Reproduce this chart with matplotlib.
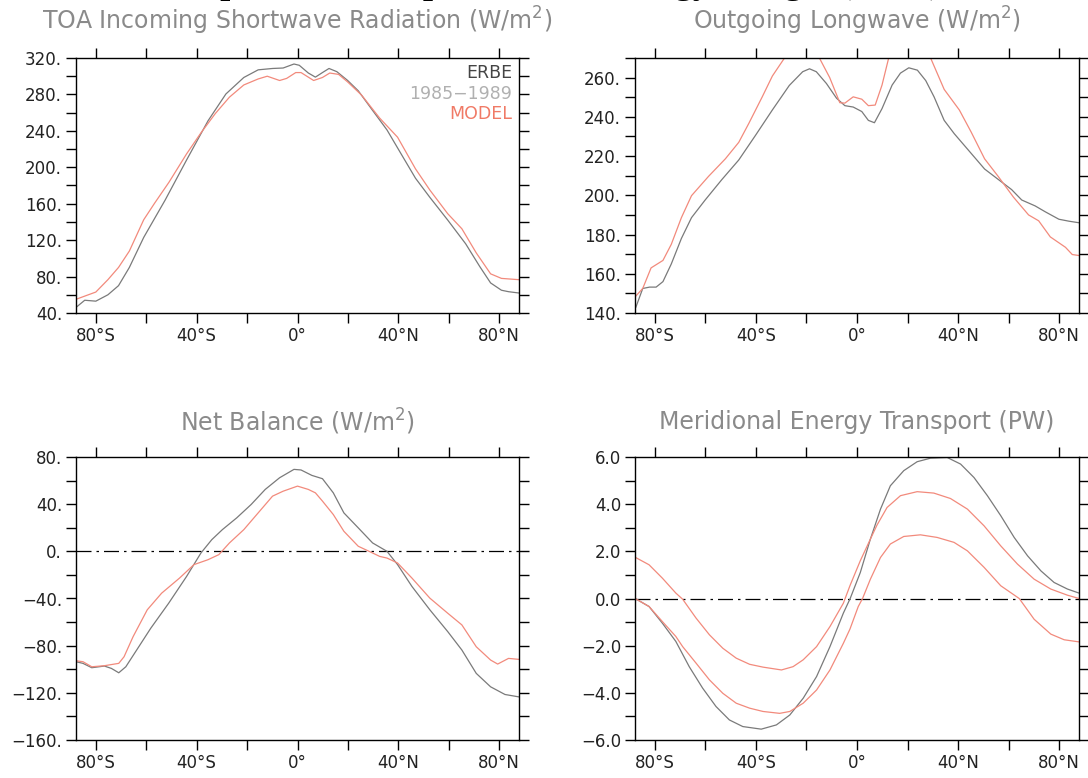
import numpy as np
import matplotlib.pyplot as plt

# ---- latitudes and zonal means, TOA absorbed shortwave (W/m2)
lat_sw_erbe = [-87.9, -84.4, -80.0, -75.2, -71.0, -66.7, -61.0, -52.5, -44.0, -35.5,
               -28.4, -21.3, -15.6, -9.9, -5.7, -1.4, 0.7, 4.3, 7.1, 9.9, 12.5, 15.6,
               19.9, 24.1, 29.8, 35.5, 41.1, 46.8, 52.5, 59.6, 66.7, 72.3, 76.6, 80.9,
               83.7, 87.7]
sw_erbe = [46, 54, 53, 60, 70, 90, 123, 164, 208, 251,
           280.5, 298.6, 307, 308.5, 309, 313.4, 312, 303.5, 299, 304, 308.5, 305,
           295.3, 284, 262.4, 241, 214.7, 188, 167, 142, 116, 91, 73, 65,
           63.4, 62]
lat_sw_model = [-87.9, -80.0, -75.2, -71.0, -66.7, -61.0, -56.7, -51.0, -44.0, -38.3,
                -32.6, -27.0, -21.3, -15.6, -12.0, -7.1, -4.3, -0.7, 1.4, 6.4, 9.9,
                12.8, 16.3, 19.9, 25.5, 32.6, 39.7, 46.8, 52.5, 59.6, 65.2, 70.9,
                76.6, 80.9, 87.7]
sw_model = [55, 63, 76.6, 90, 108, 142.4, 160.5, 183.5, 214.7, 237.8,
            259, 277, 290.4, 297, 300, 295.3, 297.6, 304, 304, 295.3, 298.6,
            303.5, 302, 293.7, 279, 254, 233, 198.3, 175, 149, 132.5, 106,
            83, 78, 76.6]

# ---- outgoing longwave (W/m2)
lat_lw_erbe = [-87.5, -84.8, -82.1, -79.5, -76.8, -73.5, -69.5, -65.5, -60.1, -53.5,
               -46.8, -40.1, -33.5, -26.8, -21.5, -18.8, -16.1, -12.1, -8.1, -4.8,
               -1.5, 1.9, 4.5, 6.9, 9.9, 13.9, 17.2, 20.5, 23.9, 27.2, 30.5, 34.5,
               38.5, 42.5, 46.5, 50.5, 55.9, 61.2, 65.2, 70.5, 74.5, 79.9, 83.9, 87.9]
lw_erbe = [143, 152.5, 153.2, 153.2, 156, 165, 178, 188.6, 197.6, 208,
           218, 230.7, 243.5, 256, 263, 264.5, 263, 257, 249.5, 245.7,
           245, 242.7, 238.2, 237, 244.2, 256.2, 262.3, 265, 263.8, 258.5, 250.2, 238.2,
           231.4, 225.4, 219.4, 213.4, 208.1, 202.9, 197.6, 194.6, 191.6, 187.8, 186.8, 186]
lat_lw_model = [-87.5, -84.8, -81.5, -76.8, -73.5, -69.5, -65.5, -58.8, -52.1, -46.8,
                -42.8, -37.5, -33.5, -28.8, -25.0, -20.0, -17.0, -14.8, -10.8, -6.8,
                -4.8, -1.5, 1.9, 4.5, 7.2, 9.9, 12.5, 16.0, 20.0, 25.0, 29.2, 34.5,
                40.5, 45.2, 50.5, 55.9, 61.9, 67.9, 71.9, 76.5, 82.5, 85.2, 87.9]
lw_model = [148.7, 152.5, 163, 166.8, 175, 188.6, 199.8, 209.6, 218.6, 227,
            236.7, 250.2, 260.8, 269.8, 278, 282, 276, 269.8, 260, 247.2,
            247, 250.2, 249, 245.7, 246, 256.2, 269.8, 280, 284, 280, 269.8, 254,
            243.5, 232.2, 218.6, 209.6, 199.1, 190, 187, 178.8, 173.5, 169.8, 169.3]

# ---- net balance (W/m2)
lat_net_erbe = [-87.9, -85.1, -81.6, -76.6, -73.8, -70.9, -68.1, -63.8, -58.2, -51.1,
                -44.0, -38.3, -34.0, -29.8, -24.1, -18.4, -12.8, -7.1, -1.4, 1.4,
                5.7, 9.9, 14.2, 18.4, 24.1, 29.8, 35.5, 39.7, 45.4, 52.5, 59.6,
                65.2, 70.9, 76.6, 82.3, 87.7]
net_erbe = [-93.6, -95, -98.7, -97.3, -99.3, -103, -97.9, -83.7, -65.2, -44,
            -21.3, -1.4, 9.9, 18.4, 28.4, 39.7, 52.5, 62.4, 69.5, 69,
            64.4, 61.6, 49.6, 32.6, 19.9, 7.1, 0, -11.3, -29.8, -49.6, -68.1,
            -83.7, -103.5, -114.9, -121.4, -123.4]
lat_net_model = [-87.9, -85.1, -81.6, -76.6, -70.9, -68.8, -65.2, -59.6, -53.9, -46.8,
                 -41.1, -35.5, -31.2, -27.0, -21.3, -15.6, -9.9, -5.7, 0.0, 4.3,
                 7.1, 9.9, 14.2, 18.4, 24.1, 28.4, 32.6, 35.5, 39.7, 45.4, 52.5,
                 59.6, 65.2, 70.9, 76.6, 79.4, 83.7, 87.7]
net_model = [-92.8, -93.6, -97.9, -97, -95, -89.4, -72.3, -49.6, -35.5, -22.7,
             -11.3, -7.1, -2.8, 7.1, 18.4, 32.6, 46.8, 51, 55.3, 52.5,
             49.6, 42.6, 31.2, 17, 4.3, 0, -4.3, -5.7, -9.9, -22.7, -39.7,
             -52.5, -62.4, -80.9, -92.2, -95.6, -90.8, -91.6]

# ---- meridional energy transport (PW)
lat_mt_erbe = [-87.8, -82.3, -77.0, -71.7, -66.4, -61.1, -55.8, -50.5, -45.2, -37.9,
               -31.9, -26.6, -21.3, -16.0, -10.7, -5.4, -2.7, 1.3, 5.3, 9.3,
               13.2, 18.5, 23.8, 29.1, 35.7, 41.0, 46.3, 51.6, 56.9, 62.2,
               67.5, 72.8, 78.0, 83.3, 87.86]
mt_erbe = [0, -0.34, -1.05, -1.82, -2.89, -3.80, -4.58, -5.15, -5.43, -5.54,
           -5.36, -4.94, -4.23, -3.31, -2.04, -0.62, 0, 1.10, 2.52, 3.79,
           4.78, 5.42, 5.80, 5.95, 5.98, 5.70, 5.13, 4.36, 3.51, 2.59,
           1.81, 1.17, 0.68, 0.40, 0.23]
# model, integrated from the south pole
lat_mt_s = [-87.8, -82.3, -77.0, -71.7, -69.0, -63.7, -58.4, -53.1, -47.8, -42.5,
            -37.2, -30.6, -26.6, -21.3, -16.0, -10.7, -5.4, -2.8, 0.5, 2.2,
            5.3, 9.3, 13.2, 18.5, 25.1, 31.7, 38.4, 43.7, 50.3, 56.9,
            64.2, 70.1, 76.7, 82.0, 87.86]
mt_model_s = [0, -0.34, -0.98, -1.61, -2.04, -2.74, -3.45, -4.02, -4.44, -4.65,
              -4.79, -4.87, -4.79, -4.44, -3.88, -3.03, -1.90, -1.30, -0.34, 0,
              0.82, 1.74, 2.31, 2.63, 2.70, 2.59, 2.38, 2.02, 1.32, 0.54,
              0, -0.88, -1.51, -1.75, -1.84]
# model, integrated from the north pole
lat_mt_n = [-87.8, -82.3, -77.0, -71.7, -69.0, -63.7, -58.4, -53.1, -47.8, -42.5,
            -37.2, -29.9, -25.3, -21.3, -16.0, -10.7, -5.4, -2.8, 1.3, 5.3,
            7.9, 11.9, 17.2, 23.8, 30.4, 37.0, 43.7, 50.3, 56.9, 63.5,
            70.1, 76.7, 83.3, 87.86]
mt_model_n = [1.75, 1.43, 0.86, 0.23, -0.03, -0.83, -1.54, -2.11, -2.53, -2.79,
              -2.91, -3.03, -2.89, -2.60, -2.04, -1.19, -0.20, 0.54, 1.60, 2.52,
              3.11, 3.86, 4.36, 4.53, 4.47, 4.24, 3.79, 3.08, 2.23, 1.46,
              0.82, 0.40, 0.14, 0]

c_erbe = '#7a7a7a'
c_model = '#f28a7c'

lat_ticks = np.arange(-80, 81, 20)
lat_labels = ['80°S', '', '40°S', '', '0°', '', '40°N', '', '80°N']


def fmt(v, dec):
    # NCL style labels: "320." / "-40." / "2.0"
    s = ('%.' + str(dec) + 'f') % v
    if dec == 0:
        s = s + '.'
    return s.replace('-', '\u2212')


def SetupPanel(ax, ylo, yhi, ystep, ydec, title, ty):
    ax.set_xlim(-87.86, 87.86)
    ax.set_ylim(ylo, yhi)
    ax.set_xticks(lat_ticks)
    ax.set_xticklabels(lat_labels)
    yt = np.arange(ylo, yhi + ystep / 2, ystep)
    ax.set_yticks(yt)
    ax.set_yticklabels([fmt(v, ydec) if i % 2 == 0 else '' for i, v in enumerate(yt)])
    ax.tick_params(direction='out', length=7, width=1.0, top=True, right=True,
                   labelsize=12, labelcolor='#222222', pad=3)
    for sp in ax.spines.values():
        sp.set_linewidth(1.0)
    pos = ax.get_position()
    fig.text((pos.x0 + pos.x1) / 2, ty, title, ha='center', va='center',
             fontsize=17, color='#8a8a8a')


fig = plt.figure(figsize=(10.88, 7.78), dpi=100)
W, H = 1088.0, 778.0

# axes boxes in pixels: left, top, right, bottom
ax1 = fig.add_axes([76 / W, 1 - 313 / H, 443 / W, 255 / H])
ax2 = fig.add_axes([635 / W, 1 - 313 / H, 444 / W, 255 / H])
ax3 = fig.add_axes([76 / W, 1 - 740 / H, 443 / W, 283 / H])
ax4 = fig.add_axes([635 / W, 1 - 740 / H, 444 / W, 283 / H])

# main title, sits mostly above the page edge (only descenders show)
fig.text(0.5, 1 + 7 / H, 'Comparison of Top of Model Energy Budget (ANN)',
         ha='center', va='baseline', fontsize=26, fontweight='bold',
         family='Liberation Serif', color='black')

SetupPanel(ax1, 40, 320, 20, 0, r'TOA Incoming Shortwave Radiation (W/m$^2$)', 1 - 21 / H)
ax1.plot(lat_sw_erbe, sw_erbe, color=c_erbe, lw=0.9)
ax1.plot(lat_sw_model, sw_model, color=c_model, lw=0.9)
ax1.text(0.985, 0.975, 'ERBE', transform=ax1.transAxes, ha='right', va='top',
         fontsize=12.5, color='#444444')
ax1.text(0.985, 0.895, '1985\u22121989', transform=ax1.transAxes, ha='right', va='top',
         fontsize=12.5, color='#b0b0b0')
ax1.text(0.985, 0.815, 'MODEL', transform=ax1.transAxes, ha='right', va='top',
         fontsize=12.5, color='#f07a66')

SetupPanel(ax2, 140, 270, 10, 0, r'Outgoing Longwave (W/m$^2$)', 1 - 21 / H)
ax2.set_yticks(np.arange(140, 271, 10))
ax2.set_yticklabels([fmt(v, 0) if v % 20 == 0 else '' for v in np.arange(140, 271, 10)])
ax2.plot(lat_lw_erbe, lw_erbe, color=c_erbe, lw=0.9)
ax2.plot(lat_lw_model, lw_model, color=c_model, lw=0.9)

SetupPanel(ax3, -160, 80, 20, 0, r'Net Balance (W/m$^2$)', 1 - 422 / H)
ax3.axhline(0, color='black', lw=0.9, ls=(0, (12, 4, 2, 4)))
ax3.plot(lat_net_erbe, net_erbe, color=c_erbe, lw=0.9)
ax3.plot(lat_net_model, net_model, color=c_model, lw=0.9)

SetupPanel(ax4, -6, 6, 1, 1, 'Meridional Energy Transport (PW)', 1 - 422 / H)
ax4.axhline(0, color='black', lw=0.9, ls=(0, (12, 4, 2, 4)))
ax4.plot(lat_mt_erbe, mt_erbe, color=c_erbe, lw=0.9)
ax4.plot(lat_mt_s, mt_model_s, color=c_model, lw=0.9)
ax4.plot(lat_mt_n, mt_model_n, color=c_model, lw=0.9)

fig.savefig('out.png', dpi=100)
